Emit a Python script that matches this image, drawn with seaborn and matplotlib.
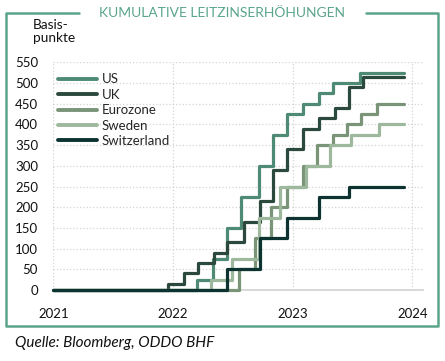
import pandas as pd
import numpy as np
import seaborn as sns
import matplotlib.pyplot as plt
import matplotlib.dates as mdates
from matplotlib.lines import Line2D

# cumulative policy rate hikes (bp) at each decision date
us_dates = ['2022-03-16', '2022-05-04', '2022-06-15', '2022-07-27', '2022-09-21', '2022-11-02',
            '2022-12-14', '2023-02-01', '2023-03-22', '2023-05-03', '2023-07-26']
us_bp = [25, 75, 150, 225, 300, 375, 425, 450, 475, 500, 525]

uk_dates = ['2021-12-16', '2022-02-03', '2022-03-17', '2022-05-05', '2022-06-16', '2022-08-04',
            '2022-09-22', '2022-11-03', '2022-12-15', '2023-02-02', '2023-03-23', '2023-05-11',
            '2023-06-22', '2023-08-03']
uk_bp = [15, 40, 65, 90, 115, 165, 215, 290, 340, 390, 415, 440, 490, 515]

ez_dates = ['2022-07-21', '2022-09-08', '2022-10-27', '2022-12-15', '2023-02-02', '2023-03-16',
            '2023-05-04', '2023-06-15', '2023-07-27', '2023-09-14']
ez_bp = [50, 125, 200, 250, 300, 350, 375, 400, 425, 450]

se_dates = ['2022-04-28', '2022-06-30', '2022-09-20', '2022-11-24', '2023-02-09', '2023-04-26',
            '2023-06-29', '2023-09-21']
se_bp = [25, 75, 175, 250, 300, 350, 375, 400]

ch_dates = ['2022-06-16', '2022-09-22', '2022-12-15', '2023-03-23', '2023-06-22']
ch_bp = [50, 125, 175, 225, 250]

series = ['US', 'UK', 'Eurozone', 'Sweden', 'Switzerland']
colors = ['#4e8a74', '#2b4a3d', '#7a9478', '#9db89c', '#0d3330']
start, end = '2021-01-01', '2023-12-07'

rows = []
for name, d, v in zip(series, [us_dates, uk_dates, ez_dates, se_dates, ch_dates],
                      [us_bp, uk_bp, ez_bp, se_bp, ch_bp]):
    rows.append((name, start, 0))
    for di, vi in zip(d, v):
        rows.append((name, di, vi))
    rows.append((name, end, v[-1]))
df = pd.DataFrame(rows, columns=['Land', 'Datum', 'bp'])
df['Datum'] = pd.to_datetime(df['Datum'])

sns.set_theme(style='white')
plt.rcParams['font.family'] = ['Lato', 'DejaVu Sans']

fig = plt.figure(figsize=(4.45, 3.61), dpi=100)
ax = fig.add_axes([0.12, 0.197, 0.831, 0.63])
sns.lineplot(data=df, x='Datum', y='bp', hue='Land', palette=colors, hue_order=series,
             drawstyle='steps-post', linewidth=2.3, ax=ax, estimator=None)
for ln in ax.get_lines():
    ln.set_clip_on(False)
    ln.set_zorder(3)

ax.set_xlim(pd.Timestamp('2021-01-01'), pd.Timestamp('2024-02-03'))
ax.set_ylim(0, 550)
ax.set_yticks(np.arange(0, 551, 50))
ax.xaxis.set_major_locator(mdates.YearLocator())
ax.xaxis.set_major_formatter(mdates.DateFormatter('%Y'))
ax.grid(True, color='#d4d4d4', linestyle=':', linewidth=0.9)
for s in ['top', 'right', 'left']:
    ax.spines[s].set_visible(False)
ax.spines['bottom'].set_color('#d4d4d4')
ax.tick_params(axis='x', length=4, color='#d4d4d4', pad=9, labelsize=9.5, labelcolor='#111111')
ax.tick_params(axis='y', length=0, pad=11, labelsize=9.5, labelcolor='#111111')
ax.set_xlabel('')
ax.set_ylabel('')

leg = ax.legend(loc='upper left', bbox_to_anchor=(0.13, 0.797), bbox_transform=fig.transFigure,
                frameon=False, fontsize=9.5, handlelength=3.0, handletextpad=0.3,
                labelspacing=0.26, borderaxespad=0, borderpad=0)
for h in leg.get_lines():
    h.set_linewidth(2.8)

fig.text(33 / 445, 1 - 19 / 361, 'Basis-\npunkte', ha='left', va='top', fontsize=9.8,
         color='#111111', linespacing=1.15)

# green frame with title gap
green = '#5aa58a'
xl, xr, yt, yb = 6 / 445, 438 / 445, 1 - 12.5 / 361, 1 - 325.5 / 361
fig.add_artist(Line2D([79 / 445, xl, xl, xr, xr, 366 / 445], [yt, yt, yb, yb, yt, yt],
                      color=green, linewidth=1.8, transform=fig.transFigure))
fig.text(222 / 445, 1 - 13 / 361, 'KUMULATIVE LEITZINSERHÖHUNGEN', ha='center', va='center',
         fontsize=10, color=green)

fig.text(15 / 445, 1 - 343 / 361, 'Quelle: Bloomberg, ODDO BHF', ha='left', va='center',
         fontsize=11, style='italic', color='#111111')

fig.savefig('out.png', dpi=100)
